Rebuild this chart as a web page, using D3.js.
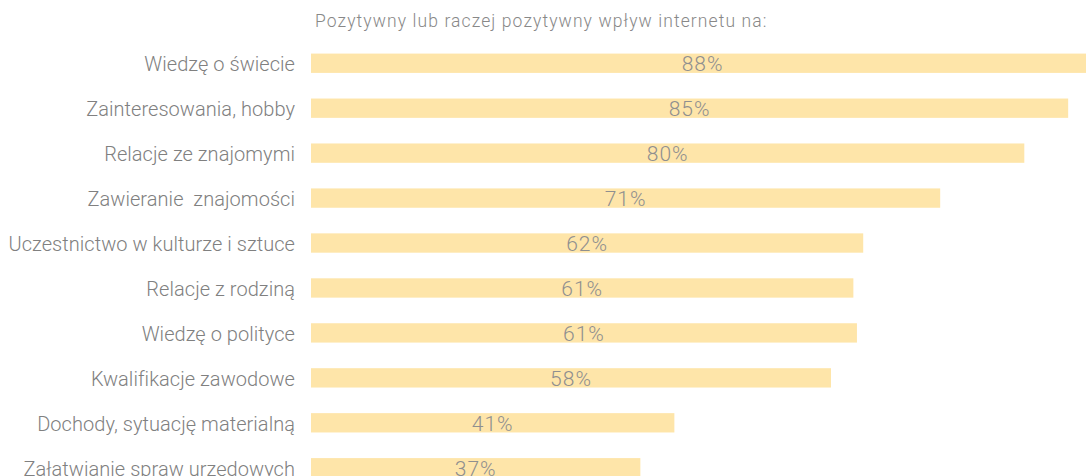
<!DOCTYPE html>
<html>
<head>
<meta charset="utf-8">
<script src="https://cdn.jsdelivr.net/npm/d3@7"></script>
<style>
  body { margin: 0; background: #fff; }
  text { font-family: Roboto, "DejaVu Sans", sans-serif; font-weight: 300; }
</style>
</head>
<body>
<div id="chart"></div>
<script>
var svgWidth = 1086;
var svgHeight = 476;

// data
var categories = [
  "Wiedzę o świecie",
  "Zainteresowania, hobby",
  "Relacje ze znajomymi",
  "Zawieranie  znajomości",
  "Uczestnictwo w kulturze i sztuce",
  "Relacje z rodziną",
  "Wiedzę o polityce",
  "Kwalifikacje zawodowe",
  "Dochody, sytuację materialną",
  "Załatwianie spraw urzędowych"
];
var values = [87.5, 84.6, 79.7, 70.3, 61.7, 60.6, 61.0, 58.1, 40.6, 36.8];
var valueLabels = ["88%", "85%", "80%", "71%", "62%", "61%", "61%", "58%", "41%", "37%"];
var title = "Pozytywny lub raczej pozytywny wpływ internetu na:";

var svg = d3.select("#chart")
  .append("svg")
  .attr("width", svgWidth)
  .attr("height", svgHeight);

var xScale = d3.scaleLinear()
  .domain([0, 100])
  .range([311, 311 + 895]);

var yScale = d3.scaleBand()
  .domain(categories)
  .range([41, 41 + 44.9 * 10])
  .paddingInner(0.57)
  .paddingOuter(0.28);

svg.append("text")
  .attr("x", 315)
  .attr("y", 21)
  .attr("dominant-baseline", "central")
  .attr("fill", "#888")
  .style("font-size", "17.5px")
  .style("letter-spacing", "1.1px")
  .text(title);

var rows = svg.selectAll(".row")
  .data(categories)
  .enter()
  .append("g")
  .attr("class", "row");

rows.append("rect")
  .attr("x", xScale(0))
  .attr("y", d => yScale(d))
  .attr("width", (d, i) => xScale(values[i]) - xScale(0))
  .attr("height", yScale.bandwidth())
  .attr("fill", "#fee5a9");

rows.append("text")
  .attr("x", 295)
  .attr("y", d => yScale(d) + yScale.bandwidth() / 2 + 1)
  .attr("text-anchor", "end")
  .attr("dominant-baseline", "central")
  .attr("fill", "#808080")
  .style("font-size", "20px")
  .style("letter-spacing", "0.05px")
  .style("white-space", "pre")
  .text(d => d);

rows.append("text")
  .attr("x", (d, i) => (xScale(0) + xScale(values[i])) / 2)
  .attr("y", d => yScale(d) + yScale.bandwidth() / 2 + 1)
  .attr("text-anchor", "middle")
  .attr("dominant-baseline", "central")
  .attr("fill", "#8f8f8f")
  .style("font-size", "21px")
  .style("letter-spacing", "1px")
  .text((d, i) => valueLabels[i]);
</script>
</body>
</html>
